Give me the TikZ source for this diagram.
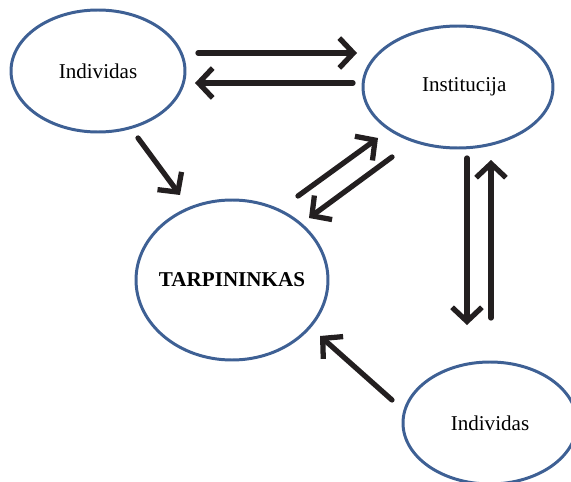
\documentclass[tikz,border=0pt]{standalone}
\usepackage{fontspec}
\setmainfont{Liberation Serif}
\usetikzlibrary{shapes.geometric, arrows.meta}
\definecolor{ringblue}{RGB}{62,96,148}
\definecolor{arrowblack}{RGB}{35,31,32}
\tikzset{
    actor/.style={ellipse, draw=ringblue, line width=1.7pt, inner sep=0pt, font=\fontsize{12}{14}\selectfont},
    flow/.style={arrowblack, line width=3pt, line cap=round, -{Straight Barb[length=8pt, width=17pt, line width=3pt]}}
}
\begin{document}
\begin{tikzpicture}
                    \clip (0,0) rectangle (11.42,-9.64);
                    \node[actor, minimum width=3.48cm, minimum height=2.44cm] (ind1) at (1.96,-1.42) {Individas};
                    \node[actor, minimum width=3.8cm, minimum height=2.44cm] (inst) at (9.16,-1.74) {\makebox[0pt]{\hspace{0.25cm}Institucija}};
                    \node[actor, minimum width=3.84cm, minimum height=3.2cm] (tarp) at (4.64,-5.6) {\makebox[0pt]{\textbf{TARPININKAS}}};
                    \node[actor, minimum width=3.48cm, minimum height=2.44cm] (ind2) at (9.8,-8.46) {Individas};

                    % free ends of the parallel arrows
                    \coordinate (a1s) at (3.96,-1.06);
                    \coordinate (a1e) at (7.14,-1.06);
                    \coordinate (a2s) at (7.06,-1.66);
                    \coordinate (a2e) at (3.9,-1.66);
                    \coordinate (a3s) at (2.76,-2.76);
                    \coordinate (a3e) at (3.6,-3.9);
                    \coordinate (a4s) at (5.96,-3.92);
                    \coordinate (a4e) at (7.56,-2.76);
                    \coordinate (a5s) at (7.84,-3.14);
                    \coordinate (a5e) at (6.18,-4.36);
                    \coordinate (a6s) at (9.34,-3.16);
                    \coordinate (a6e) at (9.34,-6.5);
                    \coordinate (a7s) at (9.82,-6.36);
                    \coordinate (a7e) at (9.82,-3.2);
                    \coordinate (a8s) at (7.84,-8.0);
                    \coordinate (a8e) at (6.4,-6.72);

                    \draw[flow] (a1s) -- (a1e);
                    \draw[flow] (a2s) -- (a2e);
                    \draw[flow] (a3s) -- (a3e);
                    \draw[flow] (a4s) -- (a4e);
                    \draw[flow] (a5s) -- (a5e);
                    \draw[flow] (a6s) -- (a6e);
                    \draw[flow] (a7s) -- (a7e);
                    \draw[flow] (a8s) -- (a8e);
                \end{tikzpicture}
\end{document}
